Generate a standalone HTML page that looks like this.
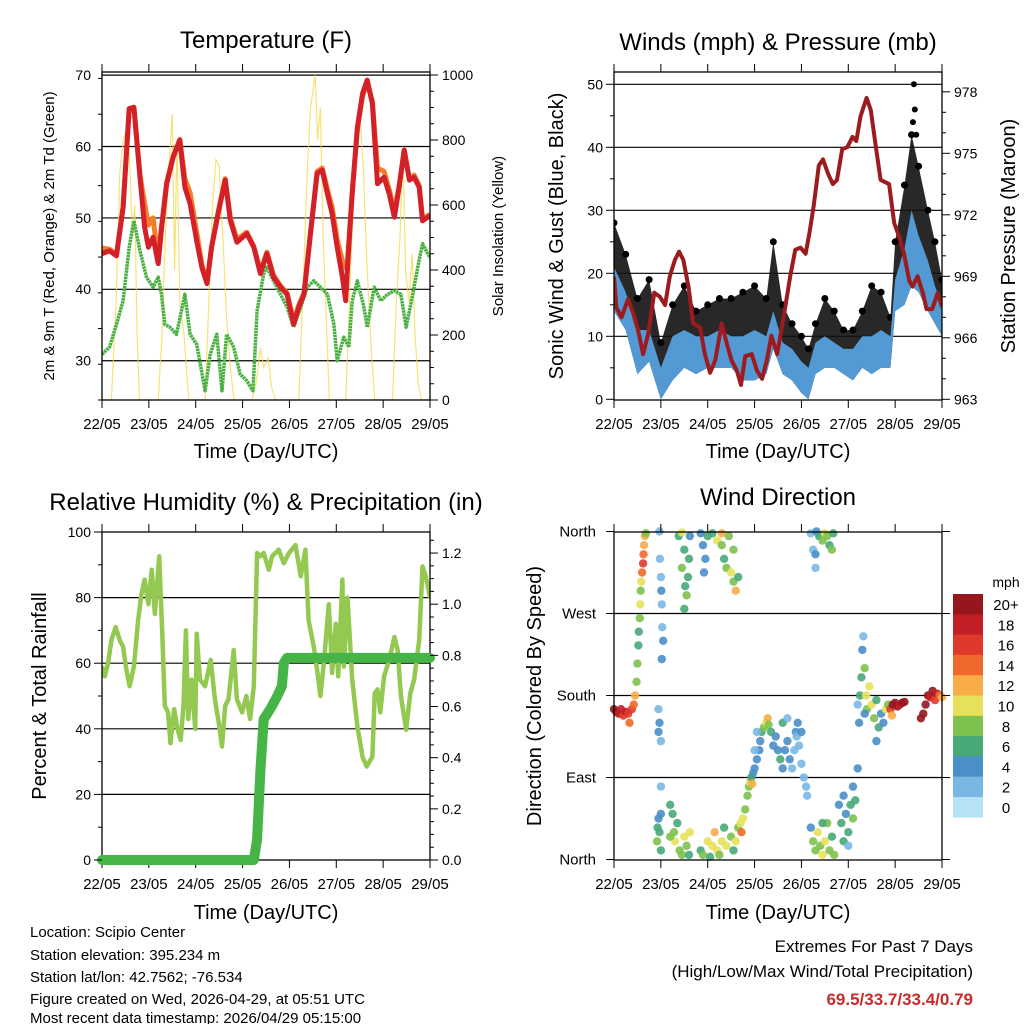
<!DOCTYPE html>
<html><head><meta charset="utf-8"><style>
html,body{margin:0;padding:0;background:#fff;}
svg{display:block;font-family:"Liberation Sans",sans-serif;}
</style></head><body>
<svg id="c" width="1024" height="1024" viewBox="0 0 1024 1024">
<rect width="1024" height="1024" fill="#fff"/>
<text x="266" y="48" font-size="24" text-anchor="middle">Temperature (F)</text>
<text x="778" y="50" font-size="24" text-anchor="middle">Winds (mph) &amp; Pressure (mb)</text>
<text x="266" y="510" font-size="24" text-anchor="middle">Relative Humidity (%) &amp; Precipitation (in)</text>
<text x="778" y="505" font-size="24" text-anchor="middle">Wind Direction</text>
<text x="266" y="458" font-size="20" text-anchor="middle">Time (Day/UTC)</text>
<text x="778" y="458" font-size="20" text-anchor="middle">Time (Day/UTC)</text>
<text x="266" y="919" font-size="20" text-anchor="middle">Time (Day/UTC)</text>
<text x="778" y="919" font-size="20" text-anchor="middle">Time (Day/UTC)</text>
<text transform="translate(54,236) rotate(-90)" font-size="15" text-anchor="middle">2m &amp; 9m T (Red, Orange) &amp; 2m Td (Green)</text>
<text transform="translate(503,236) rotate(-90)" font-size="15" text-anchor="middle">Solar Insolation (Yellow)</text>
<text transform="translate(563,236) rotate(-90)" font-size="20" text-anchor="middle">Sonic Wind &amp; Gust (Blue, Black)</text>
<text transform="translate(1015,236) rotate(-90)" font-size="20" text-anchor="middle">Station Pressure (Maroon)</text>
<text transform="translate(46,696) rotate(-90)" font-size="20" text-anchor="middle">Percent &amp; Total Rainfall</text>
<text transform="translate(541,696) rotate(-90)" font-size="20" text-anchor="middle">Direction (Colored By Speed)</text>
<g font-size="15">
<text x="30" y="937">Location: Scipio Center</text>
<text x="30" y="960">Station elevation: 395.234 m</text>
<text x="30" y="982">Station lat/lon: 42.7562; -76.534</text>
<text x="30" y="1004">Figure created on Wed, 2026-04-29, at 05:51 UTC</text>
<text x="30" y="1025" dy="-2">Most recent data timestamp: 2026/04/29 05:15:00</text>
</g>
<text x="973" y="952" font-size="17" text-anchor="end">Extremes For Past 7 Days</text>
<text x="973" y="977" font-size="17" text-anchor="end">(High/Low/Max Wind/Total Precipitation)</text>
<text x="973" y="1005" font-size="17" font-weight="bold" fill="#cc2a2a" text-anchor="end">69.5/33.7/33.4/0.79</text>
<defs>
<clipPath id="cpT"><rect x="102" y="72" width="328" height="328"/></clipPath>
<clipPath id="cpW"><rect x="614" y="72" width="328" height="328"/></clipPath>
<clipPath id="cpR"><rect x="102" y="532" width="328" height="328"/></clipPath>
<clipPath id="cpD"><rect x="610" y="526" width="336" height="338"/></clipPath>
</defs>
</svg>
<script>
// ---------- data ----------
const dayLabels=["22/05","23/05","24/05","25/05","26/05","27/05","28/05","29/05"];
const tempDay=[0,.16,.31,.45,.58,.68,.81,.91,.99,1.09,1.2,1.27,1.38,1.52,1.66,1.77,1.88,2.02,2.13,2.24,2.34,2.49,2.63,2.74,2.88,3.09,3.24,3.38,3.52,3.66,3.81,3.95,4.09,4.2,4.31,4.45,4.59,4.7,4.81,4.91,5.02,5.13,5.2,5.24,5.34,5.45,5.56,5.66,5.77,5.88,6.02,6.13,6.24,6.34,6.45,6.56,6.66,6.77,6.84,6.95,7.0];
const temp2m=[45,45.4,44.7,51.5,65.3,65.5,55.7,48.7,45.9,47.3,43.6,48.5,54.8,58.5,60.9,54.3,52,46.8,43.1,40.8,45.9,51,55.3,49.6,46.6,47.8,45.9,42.2,45,41.7,40.3,39.3,35.1,37.5,39.3,47.8,56.2,56.7,53.4,50.6,45.9,41.7,38.4,43,53.4,62.7,67.4,69.3,66,54.8,55.7,53.4,50.1,54.3,59.5,55.3,55.7,54.3,49.6,50.1,50.3];
const temp9m=[45.8,45.6,44.9,51.5,65.3,65.5,56,52,49,50,44,48.8,55,58.7,61,55.5,53.5,48,43.5,41,46,51.2,55.5,50,47,48,46,42.5,45.2,42,40.5,39.5,35.5,37.8,39.5,48,56.5,57,54,51.5,47,44,43,44,53.6,62.5,67,69,66.3,57,56.5,54,51,54.5,59.5,55.5,56,54.5,50,50.3,50.5];
const dewDay=[0,.16,.31,.45,.58,.68,.81,.95,1.09,1.2,1.27,1.34,1.45,1.59,1.77,1.88,2.02,2.2,2.31,2.45,2.56,2.66,2.81,2.95,3.09,3.22,3.31,3.45,3.52,3.66,3.81,3.95,4.09,4.24,4.38,4.52,4.66,4.81,4.95,5.02,5.16,5.27,5.34,5.45,5.59,5.66,5.81,5.95,6.09,6.24,6.38,6.49,6.59,6.74,6.84,6.95,7.02];
const dewPoint=[30.9,31.9,35.1,38.4,45.9,49.6,45.4,41.7,40.3,41.7,39.3,35.1,34.7,33.7,39.3,33.7,32.3,25.8,30.9,33.7,25.8,33.7,31.9,28.1,27.2,25.8,37,42.2,43.1,41.2,39.3,37.5,34.7,37.5,40.3,41.2,40.3,39.3,35.1,30,33.3,31.9,38.4,41.2,37.5,34.7,40.3,38.4,39.3,39.8,39.3,34.7,37.9,43.1,46.4,45,44.3];
const solarDay=[0,.2,.3,.38,.45,.5,.55,.6,.65,.7,.75,.8,1.2,1.28,1.35,1.42,1.5,1.55,1.6,1.66,1.75,1.85,2.2,2.28,2.36,2.43,2.5,2.58,2.66,2.75,2.82,3.2,3.3,3.38,3.45,3.55,3.62,3.7,4.2,4.28,4.38,4.45,4.5,4.55,4.6,4.66,4.72,4.8,4.85,5.2,5.28,5.36,5.45,5.52,5.58,5.66,5.75,5.82,6.2,6.28,6.36,6.42,6.48,6.55,6.62,6.68,6.75,6.82,7.0];
const solarW=[0,0,300,700,800,820,850,700,500,600,200,0,0,200,500,700,880,400,800,300,200,0,0,300,600,740,720,500,250,80,0,0,60,160,100,130,40,0,0,300,700,900,950,1000,800,900,500,200,0,0,300,600,800,850,700,400,150,0,0,300,500,780,400,300,450,200,50,0,0];
const windDay=[0,.25,.5,.75,1,1.25,1.5,1.75,2,2.25,2.5,2.75,3,3.25,3.4,3.6,3.8,4,4.15,4.3,4.5,4.7,4.9,5.1,5.3,5.5,5.7,5.9,6.0,6.2,6.35,6.5,6.7,6.85,7.0];
const windLow=[14,11,4,6,0,3,5,4,5,5,5,3,3,4,8,4,3,1,0,4,5,5,4,3,5,4,5,5,14,15,18,17,14,12,10];
const windHigh=[21,17,11,11,5,10,11,10,10,11,10,10,11,10,14,9,8,6,5,9,10,9,8,8,10,10,11,10,19,24,30,26,22,18,15];
const gustHigh=[28,23,16,19,9,15,18,14,15,16,16,17,18,16,25,15,12,10,8,12,16,14,11,11,14,18,17,13,25,34,42,37,30,25,19];
const gustPeakDay=[6.38,6.4,6.42,6.45];
const gustPeak=[44,50,46,42];
const presDay=[0,.05,.16,.3,.41,.51,.62,.73,.86,.98,1.09,1.19,1.3,1.39,1.48,1.59,1.69,1.84,1.94,2.05,2.16,2.3,2.41,2.51,2.62,2.71,2.8,2.94,3.05,3.16,3.26,3.36,3.48,3.62,3.76,3.87,3.98,4.09,4.17,4.26,4.37,4.46,4.57,4.67,4.76,4.87,4.98,5.09,5.17,5.26,5.39,5.48,5.59,5.69,5.87,5.98,6.09,6.19,6.3,6.37,6.48,6.59,6.67,6.79,6.91,7.0];
const presMb=[968.98,967.5,967.0,967.9,967.2,966.4,965.2,966.2,968.2,968.0,967.6,969.0,969.8,970.2,969.8,968.5,966.7,966.5,965.2,964.3,964.9,966.7,965.7,964.9,964.4,963.7,965.1,965.2,964.4,964.0,964.9,966.1,965.2,967.0,969.0,970.3,970.4,970.1,971.1,972.4,974.4,974.7,974.0,973.5,973.7,975.2,975.3,975.8,975.6,976.8,977.7,977.1,975.3,973.7,973.5,971.6,970.9,970.1,968.8,968.5,969.0,968.2,967.4,967.4,968.2,967.5];
const rhDay=[0,.06,.13,.2,.29,.38,.45,.52,.59,.68,.77,.84,.91,.99,1.06,1.13,1.22,1.29,1.34,1.41,1.46,1.54,1.61,1.68,1.74,1.79,1.84,1.91,1.99,2.02,2.09,2.2,2.32,2.41,2.49,2.56,2.63,2.7,2.81,2.88,2.99,3.08,3.16,3.24,3.31,3.38,3.45,3.56,3.63,3.77,3.88,3.99,4.13,4.24,4.34,4.41,4.52,4.59,4.66,4.74,4.84,4.91,4.99,5.04,5.13,5.16,5.24,5.34,5.45,5.56,5.65,5.77,5.82,5.88,5.94,6.02,6.13,6.24,6.31,6.38,6.49,6.58,6.66,6.77,6.84,6.91,7.0];
const rhPct=[59,56,60,67,71,67,65,58,53,59,73,81,85.5,78,88.5,75,92.6,68,47,45,35.6,46,40,36.6,47,70,43,55,40,69,55,53,61,49,42,34.6,47,49,64,49,45,50,43,53,93.6,92.6,93.6,88.5,92.6,94.6,90.5,93.6,96,86.5,94.6,73,65,58,50,61,78,57,72,56,85.5,59,80,55,40.7,31.5,28.5,31.5,50.8,52,45,56,61,68,64,50,39.7,50.8,55,67,89.5,86.5,80];
const precipDay=[0,3.24,3.31,3.38,3.45,3.59,3.74,3.84,3.88,3.95,7.0];
const precipIn=[0,0,0.08,0.35,0.55,0.59,0.64,0.68,0.77,0.79,0.79];
const dirDay=[0,.05,.1,.15,.2,.25,.3,.33,.38,.42,
.45,.48,.5,.52,.53,.55,.56,.57,.58,.6,.62,.63,.64,.66,.68,
.97,.98,1,1.01,1.02,1.03,1.05,1.02,.95,.97,1,.95,1,1,.95,.97,1,.93,.92,
1.2,1.25,1.28,1.3,1.35,1.4,1.45,1.5,1.55,1.6,1.62,1.2,
1.45,1.5,1.52,1.55,1.58,1.6,1.62,1.5,1.38,1.45,
1.85,1.9,1.95,1.92,2,2.1,2.2,2.3,2.35,2.4,2.5,2.55,2.6,2.45,2.55,2.65,2.3,
1.85,1.9,2,2.05,2.1,2.15,2.2,2.25,2.3,2.35,2.4,2.5,2.55,2.6,2.65,
2.7,2.72,2.75,2.8,2.85,2.88,2.9,2.93,2.97,3,3.05,3.1,3.12,3.15,3.2,3.25,3.28,3.3,3.35,3.4,3,3.05,2.95,
3.45,3.5,3.55,3.6,3.65,3.7,3.75,3.8,3.85,3.88,3.92,3.95,4,4.05,4.1,4.12,3.9,3.6,3.7,4,
4.2,4.25,4.3,4.32,4.38,4.45,4.5,4.55,4.6,4.65,4.68,4.3,
4.2,4.25,4.3,4.35,4.4,4.45,4.5,4.55,4.6,4.65,4.7,4.45,
4.8,4.85,4.9,4.95,5,5.05,5.1,5.1,5.15,5.2,4.9,5,
5.2,5.23,5.25,5.28,5.3,5.32,5.35,5.38,5.4,5.45,5.5,5.55,5.6,5.65,5.7,5.75,5.8,5.85,5.6,5.35,
5.9,5.95,6,6.05,6.1,6.15,6.2,5.93,
6.55,6.6,6.65,6.7,6.75,6.8,6.85,6.9,6.95,7];
const dirDeg=[165,162,160,165,158,162,160,150,165,170,
180,195,215,235,250,265,280,295,305,315,325,335,345,355,358,
360,330,310,295,280,255,240,220,140,150,130,165,80,50,45,30,10,35,20,
60,50,30,20,40,10,5,25,15,5,30,25,
320,340,300,290,310,330,355,275,355,359,
358,345,330,315,355,358,350,345,330,320,315,305,295,355,340,310,358,
10,5,20,3,15,30,10,5,20,35,15,25,10,20,35,
40,30,45,55,70,80,85,90,95,100,110,120,130,140,145,150,155,148,140,125,120,140,83,
135,120,110,100,120,130,110,100,120,140,150,125,105,90,80,70,135,150,155,140,
358,340,320,360,355,350,358,355,345,340,358,335,
35,20,10,30,15,5,20,40,10,25,5,40,
60,40,20,50,30,60,80,45,65,100,70,15,
170,150,180,200,230,245,210,180,165,190,170,155,175,145,160,150,165,170,130,160,
165,170,172,168,170,172,173,158,
155,160,170,180,178,185,175,182,180,178];
const dirSpd=[20,20,18,18,16,18,16,14,16,14,
12,8,8,6,6,8,10,8,10,14,16,14,12,12,8,
2,2,2,4,2,2,4,4,4,4,2,2,2,4,4,6,6,6,8,
6,6,8,10,6,8,8,10,8,6,10,8,
8,6,6,8,6,6,4,6,6,10,
4,4,4,4,6,6,10,8,6,8,10,8,12,8,8,6,12,
6,8,10,6,10,12,10,8,10,6,10,8,6,10,8,
10,14,10,8,8,8,10,6,4,4,4,4,4,6,8,10,12,8,6,4,2,2,12,
4,4,6,4,4,4,4,2,2,4,4,2,2,2,2,2,2,6,2,4,
2,2,2,4,6,8,10,8,6,8,6,4,
4,8,8,10,8,10,10,8,8,6,8,6,
4,6,6,4,6,6,4,8,6,4,4,2,
2,4,6,6,4,2,8,10,8,10,10,8,6,6,4,4,10,8,4,4,
16,20,20,20,18,20,20,12,
20,20,20,20,18,20,16,18,14,12];
const speedColors=["#b5e2f7","#7ab8e3","#4a8fc8","#48a878","#7dc24e","#e5e25a","#f8ad48","#f0692a","#e0392b","#c11e26","#96161e"];
const cbLabels=["20+","18","16","14","12","10","8","6","4","2","0"];

// ---------- helpers ----------
const svg=document.getElementById('c');
const NS='http://www.w3.org/2000/svg';
function mk(tag,attrs,name,parent){
  const el=document.createElementNS(NS,tag);
  for(const k in attrs) el.setAttribute(k,attrs[k]);
  
  
  (parent||svg).appendChild(el);
  return el;
}
function txt(x,y,s,size,anchor,name){
  const t=mk('text',{x:x,y:y,'font-size':size,'text-anchor':anchor},name);
  t.textContent=s;return t;
}
function pts(xs,ys,fx,fy){return xs.map((d,i)=>fx(d).toFixed(1)+','+fy(ys[i]).toFixed(1)).join(' ');}

function frame(x0,x1,y0,y1,prefix,labY){
  mk('rect',{x:x0,y:y0,width:x1-x0,height:y1-y0,fill:'none',stroke:'#000','stroke-width':1.3},prefix+'-frame');
  const dw=(x1-x0)/7;
  for(let i=0;i<=7;i++){
    const x=x0+i*dw;
    mk('line',{x1:x,y1:y0,x2:x,y2:y0-8,stroke:'#000','stroke-width':1},prefix+'-x-tick-top');
    mk('line',{x1:x,y1:y1,x2:x,y2:y1+8,stroke:'#000','stroke-width':1},prefix+'-x-tick');
    txt(x,labY,dayLabels[i],15,'middle',prefix+'-x-tick-label');
  }
}
function yAxis(x,y0,y1,vmin,vmax,major,minor,side,labels,prefix,grid,gx0,gx1,fsz){
  const f=v=>y1-(v-vmin)/(vmax-vmin)*(y1-y0);
  const dir=side==='left'?-1:1;
  for(let v=vmin;v<=vmax+1e-9;v+=minor){
    const isMaj=Math.abs(v/major-Math.round(v/major))<1e-6;
    const y=f(v);
    mk('line',{x1:x,y1:y,x2:x+dir*(isMaj?8:4),y2:y,stroke:'#000','stroke-width':1},prefix+(isMaj?'-major-tick':'-minor-tick'));
  }
  labels.forEach(l=>{
    const y=f(l.v);
    txt(side==='left'?x-11:x+12,y+5,l.t,fsz||14,side==='left'?'end':'start',prefix+'-tick-label');
  });
}

// ---------- Temperature panel ----------
(function(){
  const X0=102,X1=430,Y0=72,Y1=400;
  const x=d=>X0+d*(X1-X0)/7;
  const y=t=>Y1-(t-24.5)*7.14;
  const ys=w=>Y1-w*0.325;
  const g=mk('g',{'clip-path':'url(#cpT)'},'temperature-plot-area');
  [70,60,50,40,30].forEach(v=>mk('line',{x1:X0,y1:y(v),x2:X1,y2:y(v),stroke:'#000','stroke-width':1.2},'temp-gridline',g));
  mk('polyline',{points:pts(solarDay,solarW,x,ys),fill:'none',stroke:'#f6d845','stroke-width':1.2,'stroke-opacity':0.75},'solar-insolation-line',g);
  mk('polyline',{points:pts(dewDay,dewPoint,x,y),fill:'none',stroke:'#48b040','stroke-width':3.5,'stroke-dasharray':'2.5 0.6','stroke-linejoin':'round'},'dewpoint-2m-line',g);
  mk('polyline',{points:pts(tempDay,temp9m,x,y),fill:'none',stroke:'#f37d2a','stroke-width':5,'stroke-linejoin':'round'},'temp-9m-line',g);
  mk('polyline',{points:pts(tempDay,temp2m,x,y),fill:'none',stroke:'#d42028','stroke-width':5,'stroke-linejoin':'round'},'temp-2m-line',g);
  frame(X0,X1,Y0,Y1,'temp',429);
  yAxis(X0,Y0,Y1,24.5,70.4,10,5,'left',[30,40,50,60,70].map(v=>({v:v,t:String(v)})),'temp-left',false);
  yAxis(X1,ys(1000),Y1,0,1000,200,50,'right',[0,200,400,600,800,1000].map(v=>({v:v,t:String(v)})),'solar-right',false);
})();

// ---------- Winds panel ----------
(function(){
  const X0=614,X1=942,Y0=72,Y1=400;
  const x=d=>X0+d*(X1-X0)/7;
  const y=m=>399.3-m*6.3;
  const yp=p=>399.3-(p-963)*20.5;
  const g=mk('g',{'clip-path':'url(#cpW)'},'winds-plot-area');
  [50,40,30,20,10].forEach(v=>mk('line',{x1:X0,y1:y(v),x2:X1,y2:y(v),stroke:'#000','stroke-width':1.2},'wind-gridline',g));
  const gustPoly=windDay.map((d,i)=>x(d)+','+y(gustHigh[i])).concat(windDay.slice().reverse().map((d,j)=>{const i=windDay.length-1-j;return x(d)+','+y(windLow[i]);})).join(' ');
  mk('polygon',{points:gustPoly,fill:'#111','fill-opacity':0.9},'gust-band',g);
  windDay.forEach((d,i)=>{mk('circle',{cx:x(d),cy:y(gustHigh[i]),r:3.5,fill:'#000'},'gust-dot',g);});
  gustPeakDay.forEach((d,i)=>{mk('circle',{cx:x(d),cy:y(gustPeak[i]),r:3,fill:'#000'},'gust-peak-dot',g);});
  const windPoly=windDay.map((d,i)=>x(d)+','+y(windHigh[i])).concat(windDay.slice().reverse().map((d,j)=>{const i=windDay.length-1-j;return x(d)+','+y(windLow[i]);})).join(' ');
  mk('polygon',{points:windPoly,fill:'#5399d3'},'sonic-wind-band',g);
  mk('polyline',{points:pts(presDay,presMb,x,yp),fill:'none',stroke:'#9b1b1e','stroke-width':4,'stroke-linejoin':'round'},'pressure-line',g);
  frame(X0,X1,Y0,Y1,'winds',429);
  yAxis(X0,Y0,399.3,0,(399.3-72)/6.3,10,5,'left',[0,10,20,30,40,50].map(v=>({v:v,t:String(v)})),'wind-left',false,0,0,14);
  yAxis(X1,Y0,399.3,963,963+(399.3-72)/20.5,3,1,'right',[963,966,969,972,975,978].map(v=>({v:v,t:String(v)})),'pressure-right',false);
})();

// ---------- Humidity panel ----------
(function(){
  const X0=102,X1=430,Y0=532,Y1=860;
  const x=d=>X0+d*(X1-X0)/7;
  const y=h=>Y1-h*3.28;
  const yi=v=>Y1-v*255.8;
  const g=mk('g',{'clip-path':'url(#cpR)'},'humidity-plot-area');
  [80,60,40,20].forEach(v=>mk('line',{x1:X0,y1:y(v),x2:X1,y2:y(v),stroke:'#000','stroke-width':1.2},'rh-gridline',g));
  mk('polyline',{points:pts(rhDay,rhPct,x,y),fill:'none',stroke:'#93c950','stroke-width':4.5,'stroke-linejoin':'round'},'relative-humidity-line',g);
  frame(X0,X1,Y0,Y1,'rh',889);
  mk('polyline',{points:pts(precipDay,precipIn,x,yi),fill:'none',stroke:'#46b446','stroke-width':10,'stroke-linejoin':'round','stroke-linecap':'round'},'precipitation-line');
  yAxis(X0,Y0,Y1,0,100,20,10,'left',[0,20,40,60,80,100].map(v=>({v:v,t:String(v)})),'rh-left',false,0,0,14);
  yAxis(X1,Y1-1.28*255.8,Y1,0,1.28,0.2,0.05,'right',[0,.2,.4,.6,.8,1,1.2].map(v=>({v:v,t:v.toFixed(1)})),'precip-right',false);
})();

// ---------- Wind direction panel ----------
(function(){
  const X0=614,X1=942,Y0=532,Y1=860;
  const x=d=>X0+d*(X1-X0)/7;
  const y=deg=>859.5-deg*0.9111;
  [270,180,90].forEach(v=>mk('line',{x1:X0,y1:y(v),x2:X1,y2:y(v),stroke:'#000','stroke-width':1.2},'direction-gridline'));
  const g=mk('g',{'clip-path':'url(#cpD)'},'direction-plot-area');
  dirDay.forEach((d,i)=>{
    const c=speedColors[Math.min(10,Math.floor(dirSpd[i]/2))];
    mk('circle',{cx:x(d).toFixed(1),cy:y(dirDeg[i]).toFixed(1),r:4.2,fill:c,'fill-opacity':0.9},'direction-point',g);
  });
  frame(X0,X1,Y0,Y1,'dir',889);
  const lab=[{v:0,t:'North'},{v:90,t:'East'},{v:180,t:'South'},{v:270,t:'West'},{v:360,t:'North'}];
  lab.forEach(l=>{
    const yy=y(l.v);
    mk('line',{x1:X0,y1:yy,x2:X0-8,y2:yy,stroke:'#000'},'dir-left-tick');
    mk('line',{x1:X1,y1:yy,x2:X1+8,y2:yy,stroke:'#000'},'dir-right-tick');
    txt(X0-18,yy+5,l.t,15,'end','dir-tick-label');
  });
  txt(1006,587,'mph',14,'middle','colorbar-unit-label');
  for(let i=0;i<11;i++){
    const yy=594+i*20.3;
    mk('rect',{x:953,y:yy,width:30,height:20.6,fill:speedColors[10-i]},'colorbar-swatch');
    txt(1006,yy+16,cbLabels[i],15,'middle','colorbar-label');
  }
})();
</script>
</body></html>
